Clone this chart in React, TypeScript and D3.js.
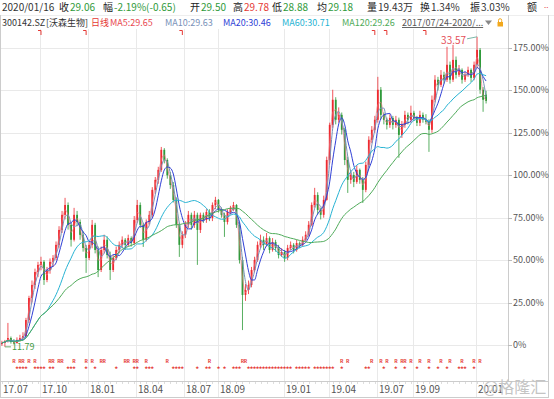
import React from "react";
import * as d3 from "d3";

const W = 554;
const H = 399;
const plotRight = 508;
const plotTop = 29;
const axisY = 381;

// daily bars, resampled: [open, high, low, close] as % change vs the 2017/07/24 base
const candles: [number, number, number, number][] = [
  [0.5, 2.5, -0.5, 1.2], [1.2, 3.0, -1.1, 2.4], [2.4, 13, 1.5, 4.1], [4.1, 5.0, 0.8, 1.8],
  [1.8, 3.5, 0.3, 1.2], [1.2, 4.5, 0.8, 3.0], [3.0, 6.0, 2.0, 4.1], [4.1, 7.5, 3.0, 5.3],
  [5.3, 16, 4.5, 14.7], [14.7, 29, 13, 27.7], [27.7, 38, 25, 35.4], [35.4, 45, 33, 43],
  [43, 49, 40, 47.2], [47.2, 52, 44, 49], [49, 50, 35.4, 38.3], [38.3, 46, 37, 44.2],
  [44.2, 51, 42, 49], [49, 53, 46, 51.3], [51.3, 61, 50, 59], [59, 70, 57, 67.8],
  [67.8, 79, 66, 76.7], [76.7, 86.7, 74, 82.5], [82.5, 84, 68, 70.8], [70.8, 72, 58, 62],
  [62, 80.8, 61, 76.7], [76.7, 79, 70, 72.5], [72.5, 74, 62, 64.9], [64.9, 67, 55, 57.2],
  [57.2, 59, 42.5, 51.3], [51.3, 61, 50, 59], [59, 73.7, 57, 70.8], [70.8, 72, 54, 56],
  [56, 58, 40, 44.2], [44.2, 58, 43, 56], [56, 65, 54, 62], [62, 64, 51, 53],
  [53, 55, 38.3, 44.2], [44.2, 53, 43, 51.3], [51.3, 58, 50, 56], [56, 61, 54, 59],
  [59, 64, 57, 62], [62, 63, 56, 59], [59, 65, 58, 63], [63, 64, 58, 60],
  [60, 76, 59, 73.7], [73.7, 85.5, 72, 82.5], [82.5, 84, 69, 70.8], [70.8, 72, 57.8, 62],
  [62, 74, 61, 72.5], [72.5, 79, 71, 76.7], [76.7, 93, 75, 91.4], [91.4, 99, 89, 97.3],
  [97.3, 105, 95, 103.2], [103.2, 116.7, 102, 115], [115, 116, 107, 109], [109, 110, 98, 100],
  [100, 102, 92, 94.3], [94.3, 96, 84, 85.5], [85.5, 87, 69, 70.8], [70.8, 72, 51.9, 59],
  [59, 67, 57, 64.9], [64.9, 73, 63, 70.8], [70.8, 79, 69, 76.7], [76.7, 78, 68, 70.8],
  [70.8, 79, 69, 76.7], [76.7, 78, 47.2, 67.8], [67.8, 78, 66, 76.7], [76.7, 78, 72, 73.7],
  [73.7, 80, 72, 78.4], [78.4, 80, 73, 74.9], [74.9, 84, 73, 82.5], [82.5, 87.3, 80, 85.5],
  [85.5, 86, 78, 79.6], [79.6, 81, 75, 76.7], [76.7, 78, 63.7, 72.5], [72.5, 80, 71, 78.4],
  [78.4, 82, 77, 80.8], [80.8, 84.3, 79, 82.5], [82.5, 83, 69, 70.8], [70.8, 72, 48, 50.1],
  [50.1, 52, 8.8, 29.5], [29.5, 36, 26, 32.4], [32.4, 38, 30, 35.4], [35.4, 46, 34, 44.2],
  [44.2, 52, 43, 50.1], [50.1, 61, 49, 59], [59, 65, 57, 62], [62, 64, 56, 59],
  [59, 66, 58, 63], [63, 64, 54, 56], [56, 63, 55, 60.7], [60.7, 62, 55, 57.2],
  [57.2, 59, 51, 53], [53, 57, 52, 54.8], [54.8, 56, 49, 51.3], [51.3, 59, 50, 57.2],
  [57.2, 61, 56, 59], [59, 60, 54, 56], [56, 62, 55, 60.1], [60.1, 61, 57, 59],
  [59, 64, 58, 62], [62, 67, 61, 64.9], [64.9, 73, 64, 70.8], [70.8, 84, 70, 82.5],
  [82.5, 92.6, 81, 88.4], [88.4, 90, 77, 79.6], [79.6, 81, 74, 76.7], [76.7, 88, 75, 85.5],
  [85.5, 111, 85, 109], [109, 131, 107, 129.7], [129.7, 150.4, 128, 144.5], [144.5, 146, 130, 132.7],
  [132.7, 140, 131, 135.6], [135.6, 137, 124, 126.8], [126.8, 128, 106, 109], [109, 111, 89.6, 97.3],
  [97.3, 103, 95, 100.2], [100.2, 102, 93, 96.1], [96.1, 106, 95, 103.2], [103.2, 104, 95, 97.3],
  [97.3, 99, 83.7, 91.4], [91.4, 108, 90, 106.1], [106.1, 123, 105, 120.9], [120.9, 129, 119, 126.8],
  [126.8, 135, 125, 132.7], [132.7, 158, 131, 150.4], [150.4, 152, 133, 135.6], [135.6, 137, 130, 132.7],
  [132.7, 134, 127, 129.7], [129.7, 136, 128, 133.8], [133.8, 135, 127, 129.7], [129.7, 135, 128, 132.7],
  [132.7, 134, 110.3, 123.8], [123.8, 132, 122, 129.7], [129.7, 138, 128, 135.6], [135.6, 137, 130, 132.7],
  [132.7, 141, 131, 136.8], [136.8, 138, 132, 133.8], [133.8, 135, 129, 130.9], [130.9, 138, 129, 135.6],
  [135.6, 137, 131, 132.7], [132.7, 136, 130, 131.5], [131.5, 133, 113.8, 126.8], [126.8, 147, 125, 144.5],
  [144.5, 159, 143, 156.3], [156.3, 158, 150, 153.3], [153.3, 162, 152, 159.2], [159.2, 161, 154, 156.3],
  [156.3, 175.7, 155, 165.1], [165.1, 167, 154, 156.3], [156.3, 176.9, 155, 168], [168, 170, 157, 159.2],
  [159.2, 165, 158, 162.1], [162.1, 163, 154, 156.3], [156.3, 161, 155, 159.2], [159.2, 164, 158, 162.1],
  [162.1, 163, 155, 157.4], [157.4, 167, 156, 165.1], [165.1, 181.6, 163, 173.9], [173.9, 175, 148, 150.4],
  [150.4, 152, 137.4, 144.5], [147.5, 149.8, 142.3, 143.8],
];

const yTicks = [0, 25, 50, 75, 100, 125, 150, 175];
const monthLabels = ["17.07", "17.10", "18.01", "18.04", "18.07", "18.09", "19.01", "19.04", "19.07", "19.09", "20.01"];
const monthIndex = [0, 13, 29, 45, 61, 72, 94, 109, 125, 137, 158];

// event markers (candle index)
const flagIndex = [13, 28, 60, 124, 128, 141];
const rightsIndex = [4, 6, 7, 9, 11, 16, 17, 19, 20, 24, 28, 30, 33, 34, 41, 42, 44, 45, 48, 55, 69, 80, 81,
  113, 115, 123, 126, 128, 131, 133, 134, 136, 139, 142, 146, 149, 153, 157, 159];
const starIndex = [5, 6, 7, 8, 11, 12, 13, 14, 16, 17, 22, 23, 24, 28, 31, 38, 44, 45, 48, 49, 50, 57, 58, 59, 60,
  65, 68, 69, 72, 74, 77, 78, 79, 82, 83, 84, 85, 86, 87, 88, 89, 90, 91, 92, 93, 94, 95, 96, 98, 99, 100, 101,
  102, 104, 105, 106, 107, 108, 109, 110, 113, 121, 122, 127, 131, 134, 138, 142, 145, 148, 152, 153, 154, 157];

// moving averages: window in resampled candles (1 candle ~ 3.7 trading days)
const maNames = ["MA5", "MA10", "MA20", "MA60", "MA120"];
const maValues = ["29.65", "29.63", "30.46", "30.71", "29.26"];
const maSpan = [2, 3, 5, 16, 32];
const maColors = ["#e9737c", "#7891b8", "#2f3fd6", "#27b3d3", "#4fab5a"];

const extremeLabels = ["11.79", "33.57"];

const quoteLabels = ["收", "幅", "开", "高", "低", "均", "量", "换", "振"];
const quoteValues = ["29.06", "-2.19%(-0.65)", "29.50", "29.78", "28.88", "29.18", "19.43万", "1.34%", "3.03%"];
const quoteColors = ["#2f9a3a", "#2f9a3a", "#2f9a3a", "#e53935", "#2f9a3a", "#2f9a3a", "#333", "#333", "#333"];

const UP = "#ee2a30";
const DOWN = "#2f9a3a";
const GRID = "#e9e9e9";
const FONT = "'Microsoft YaHei','Noto Sans CJK SC','Noto Sans',sans-serif";

export default function App() {
  const x = d3
    .scaleBand<number>()
    .domain(d3.range(candles.length))
    .range([1, 487])
    .paddingInner(0.4);
  const cx = (i: number) => (x(i) ?? 0) + x.bandwidth() / 2;
  const y = d3.scaleLinear().domain([0, 175]).range([345, 48]);

  const closes = candles.map((d) => d[3]);
  const maSeries = maSpan.map((n) =>
    closes.map((_, i) => d3.mean(closes.slice(Math.max(0, i - n + 1), i + 1)) as number)
  );
  const line = d3
    .line<number>()
    .x((_, i) => cx(i))
    .y((v) => y(v))
    .curve(d3.curveMonotoneX);

  const lowI = d3.minIndex(candles, (d) => d[2]);
  const highI = d3.maxIndex(candles, (d) => d[1]);

  // header x positions
  const quoteLabelX = [59, 103, 190, 233, 272, 317, 367, 420, 470];
  const quoteValueX = [70, 114, 201, 244, 283, 328, 378, 431, 481];
  const maLabelX = [110, 165, 223, 282, 342];

  const minorTicks = d3.range(0, candles.length, 2);

  return (
    <div>
      <style>{`body{margin:0}`}</style>
      <svg width={W} height={H} style={{ display: "block", fontFamily: FONT }}>
        <rect width={W} height={H} fill="#fff" />

        {/* header row 1 */}
        <g fontSize={10}>
          <text x={2} y={11} fill="#333">2020/01/16</text>
          {quoteLabels.map((t, k) => (
            <text key={"ql" + k} x={quoteLabelX[k]} y={11} fill="#222">{t}</text>
          ))}
          {quoteValues.map((t, k) => (
            <text key={"qv" + k} x={quoteValueX[k]} y={11} fill={quoteColors[k]}>{t}</text>
          ))}
          <text x={527} y={11} fill="#222">额</text>
          <text x={544} y={8} fill="#e53935" fontSize={8}>..</text>
        </g>
        <line x1={0} x2={W} y1={15.5} y2={15.5} stroke="#eee" />

        {/* header row 2 */}
        <g fontSize={9}>
          <text x={2} y={26} fill="#333">300142.SZ</text>
          <text x={46} y={26} fill="#333">[沃森生物]</text>
          <text x={91} y={26} fill="#e53935">日线</text>
          {maNames.map((n, k) => (
            <text key={"ma" + k} x={maLabelX[k]} y={26} fill={k === 0 ? "#e8474f" : maColors[k]}>
              {n}:{maValues[k]}
            </text>
          ))}
          <text x={402} y={26} fill="#555" textDecoration="underline">2017/07/24-2020/...</text>
          <path d="M485,20.5 L492,20.5 L488.5,25 Z" fill="#888" />
          <path d="M498.5,22 V20.3 A1.6,1.6 0 0 1 501.7,20.3 V22" fill="none" stroke="#f2a81d" strokeWidth={1} />
          <rect x={497.5} y={22} width={5.5} height={4.5} fill="#f2a81d" />
        </g>

        {/* grid */}
        <g>
          {yTicks.map((t) => (
            <line key={"hg" + t} x1={0} x2={plotRight} y1={Math.round(y(t)) + 0.5} y2={Math.round(y(t)) + 0.5} stroke={GRID} />
          ))}
          {monthIndex.slice(1).map((i) => (
            <line key={"vg" + i} x1={Math.round(x(i) ?? 0) + 0.5} x2={Math.round(x(i) ?? 0) + 0.5} y1={plotTop} y2={H - 2} stroke={GRID} />
          ))}
        </g>

        {/* frame */}
        <line x1={0.5} x2={0.5} y1={15} y2={H - 2} stroke="#ccc" />
        <line x1={plotRight + 0.5} x2={plotRight + 0.5} y1={15} y2={axisY} stroke="#ccc" />
        <line x1={548.5} x2={548.5} y1={15} y2={H - 2} stroke="#ccc" />
        <line x1={0} x2={549} y1={axisY + 0.5} y2={axisY + 0.5} stroke="#ccc" />
        <line x1={0} x2={549} y1={H - 1.5} y2={H - 1.5} stroke="#ccc" />

        {/* right axis */}
        <g fontSize={9} fill="#555">
          {yTicks.map((t) => (
            <g key={"yt" + t}>
              <line x1={plotRight} x2={plotRight + 4} y1={Math.round(y(t)) + 0.5} y2={Math.round(y(t)) + 0.5} stroke="#bbb" />
              <text x={plotRight + 5} y={y(t) + 3}>{t === 0 ? "0%" : t.toFixed(2) + "%"}</text>
            </g>
          ))}
        </g>

        {/* bottom axis */}
        <g>
          {minorTicks.map((i) => (
            <line key={"mt" + i} x1={Math.round(cx(i)) + 0.5} x2={Math.round(cx(i)) + 0.5} y1={axisY + 1} y2={axisY + 3} stroke="#ddd" />
          ))}
          {monthLabels.map((t, k) => (
            <text key={"xl" + k} x={Math.round(x(monthIndex[k]) ?? 0) + 2} y={393} fontSize={10} fill="#555">{t}</text>
          ))}
        </g>

        {/* top event flags */}
        {flagIndex.map((i) => (
          <path key={"fl" + i} d={`M${cx(i) - 3},30.5 H${cx(i)} V35`} fill="none" stroke="#e53935" strokeWidth={1} />
        ))}

        {/* candles */}
        <g>
          {candles.map(([o, h, l, c], i) => {
            const col = c >= o ? UP : DOWN;
            const top = y(Math.max(o, c));
            const bot = y(Math.min(o, c));
            return (
              <g key={"c" + i}>
                <line x1={cx(i)} x2={cx(i)} y1={y(h)} y2={y(l)} stroke={col} strokeWidth={0.8} />
                <rect x={x(i)} y={top} width={x.bandwidth()} height={Math.max(1, bot - top)} fill={col} />
              </g>
            );
          })}
        </g>

        {/* moving averages */}
        <g fill="none">
          {maSeries.map((s, k) => (
            <path key={"mal" + k} d={line(s) ?? ""} stroke={maColors[k]} strokeWidth={k === 0 ? 0.7 : 1} />
          ))}
        </g>

        {/* extremes */}
        <line x1={cx(lowI)} x2={cx(lowI) + 6} y1={y(candles[lowI][2])} y2={y(candles[lowI][2])} stroke="#6aa86a" />
        <text x={cx(lowI) + 7} y={y(candles[lowI][2]) + 3} fontSize={9} fill="#3f9a3f">{extremeLabels[0]}</text>
        <line x1={cx(highI) - 10} x2={cx(highI)} y1={y(candles[highI][1]) + 2} y2={y(candles[highI][1])} stroke="#7ab8a8" />
        <text x={cx(highI) - 11} y={y(candles[highI][1]) + 7} fontSize={10} fill="#e5505a" textAnchor="end">{extremeLabels[1]}</text>

        {/* event rows */}
        <g fill="#e53935" textAnchor="middle" fontWeight="bold">
          {rightsIndex.map((i) => (
            <text key={"r" + i} x={cx(i)} y={363} fontSize={5}>R</text>
          ))}
          {starIndex.map((i) => (
            <text key={"s" + i} x={cx(i)} y={371.5} fontSize={7}>*</text>
          ))}
        </g>

        {/* watermark */}
        <text x={483} y={393} fontSize={16} fill="#c4c4c4">@格隆汇</text>
      </svg>
    </div>
  );
}
